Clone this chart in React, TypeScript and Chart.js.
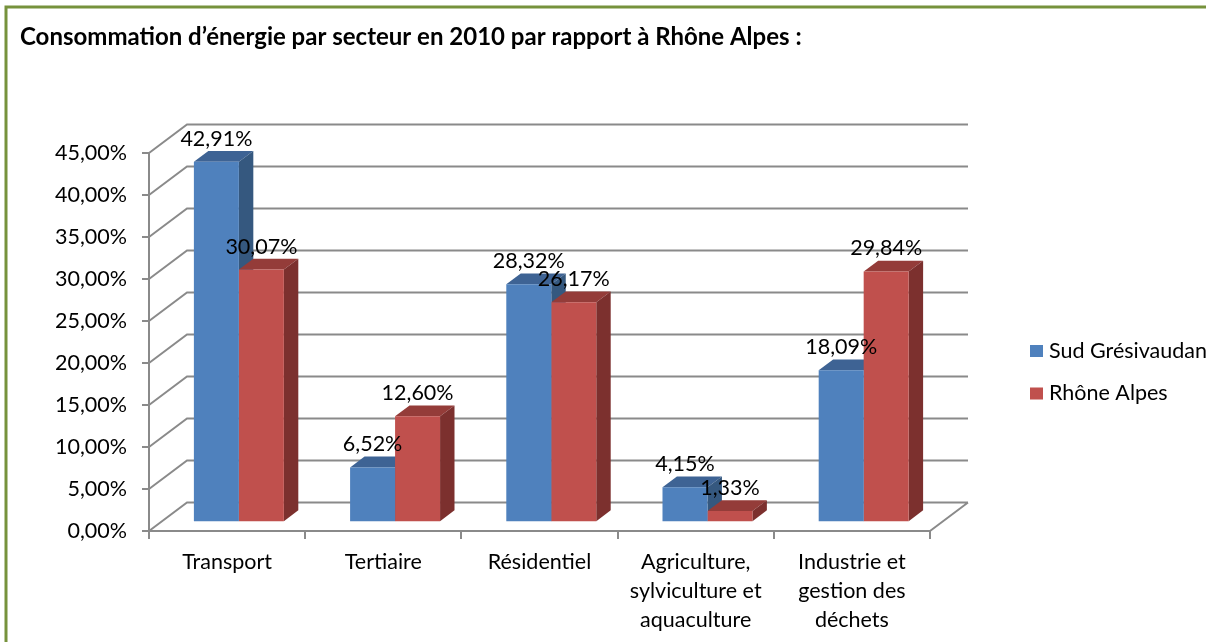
import React, { useEffect, useRef } from 'react';
import { Chart, registerables } from 'chart.js';

Chart.register(...registerables);

// ---- data ----
const categories: string[][] = [
  ['Transport'],
  ['Tertiaire'],
  ['Résidentiel'],
  ['Agriculture,', 'sylviculture et', 'aquaculture'],
  ['Industrie et', 'gestion des', 'déchets'],
];
const sudGresivaudan = [42.91, 6.52, 28.32, 4.15, 18.09];
const rhoneAlpes = [30.07, 12.6, 26.17, 1.33, 29.84];
const seriesNames = ['Sud Grésivaudan', 'Rhône Alpes'];
const yTicksMin = 0;
const yTicksMax = 45;
const yTicksStep = 5;
const chartTitle = 'Consommation d’énergie par secteur en 2010 par rapport à Rhône Alpes :';

// ---- styles ----
const FONT = 'Lato, "Open Sans", sans-serif';
const TICK_SIZE = 21.5;
const TITLE_SIZE = 24;
const GRID = '#8a8a8a';
const FRONT = ['#4F81BD', '#C0504D'];
const TOP = ['#3E6394', '#943C39'];
const SIDE = ['#35587F', '#7C302E'];
const DEPTH_X = 38;
const DEPTH_Y = -28.5;
const BAR_FRONT = 0.31;
const BAR_DEPTH = 0.38;

const pct = (v: number) => v.toFixed(2).replace('.', ',') + '%';

const threeD = {
  id: 'threeD',
  beforeDatasetsDraw(chart: any) {
    const { ctx, chartArea } = chart;
    const y = chart.scales.y;
    ctx.save();
    ctx.strokeStyle = GRID;
    ctx.lineWidth = 2;
    ctx.beginPath();
    y.ticks.forEach((t: any) => {
      const py = y.getPixelForValue(t.value);
      ctx.moveTo(chartArea.left, py);
      ctx.lineTo(chartArea.left + DEPTH_X, py + DEPTH_Y);
      ctx.lineTo(chartArea.right + DEPTH_X, py + DEPTH_Y);
    });
    const y0 = y.getPixelForValue(0);
    ctx.moveTo(chartArea.right, y0);
    ctx.lineTo(chartArea.right + DEPTH_X, y0 + DEPTH_Y);
    ctx.stroke();

    const ox = DEPTH_X * BAR_FRONT;
    const oy = DEPTH_Y * BAR_FRONT;
    const bx = DEPTH_X * BAR_DEPTH;
    const by = DEPTH_Y * BAR_DEPTH;
    const n = chart.data.labels.length;
    for (let i = 0; i < n; i++) {
      chart.data.datasets.forEach((_d: any, di: number) => {
        const el = chart.getDatasetMeta(di).data[i];
        if (!el) return;
        const p = el.getProps(['x', 'y', 'base', 'width'], true);
        const l = p.x - p.width / 2 + ox;
        const r = p.x + p.width / 2 + ox;
        const t = p.y + oy;
        const b = p.base + oy;
        ctx.fillStyle = TOP[di];
        ctx.beginPath();
        ctx.moveTo(l, t);
        ctx.lineTo(r, t);
        ctx.lineTo(r + bx, t + by);
        ctx.lineTo(l + bx, t + by);
        ctx.closePath();
        ctx.fill();
        ctx.fillStyle = SIDE[di];
        ctx.beginPath();
        ctx.moveTo(r, t);
        ctx.lineTo(r + bx, t + by);
        ctx.lineTo(r + bx, b + by);
        ctx.lineTo(r, b);
        ctx.closePath();
        ctx.fill();
      });
    }
    ctx.restore();
    ctx.save();
    ctx.translate(ox, oy);
  },
  afterDatasetsDraw(chart: any) {
    const { ctx } = chart;
    ctx.restore();
    const ox = DEPTH_X * BAR_FRONT;
    const oy = DEPTH_Y * BAR_FRONT;
    ctx.save();
    ctx.font = `${TICK_SIZE}px ${FONT}`;
    ctx.fillStyle = '#000';
    ctx.textAlign = 'center';
    ctx.textBaseline = 'middle';
    chart.data.datasets.forEach((d: any, di: number) => {
      chart.getDatasetMeta(di).data.forEach((el: any, i: number) => {
        const p = el.getProps(['x', 'y'], true);
        ctx.fillText(pct(d.data[i]), p.x + ox, p.y + oy - 23);
      });
    });
    ctx.restore();
  },
  afterDraw(chart: any) {
    const { ctx } = chart;
    ctx.save();
    // frame
    ctx.strokeStyle = '#76923C';
    ctx.lineWidth = 3;
    ctx.beginPath();
    ctx.moveTo(6, 700);
    ctx.lineTo(6, 7);
    ctx.lineTo(1300, 7);
    ctx.stroke();
    // title
    ctx.fillStyle = '#000';
    ctx.font = `bold ${TITLE_SIZE}px ${FONT}`;
    ctx.textAlign = 'left';
    ctx.textBaseline = 'middle';
    ctx.fillText(chartTitle, 20, 37);
    // legend
    ctx.font = `${TICK_SIZE}px ${FONT}`;
    chart.data.datasets.forEach((d: any, di: number) => {
      const cy = 351 + di * 42.5;
      ctx.fillStyle = FRONT[di];
      ctx.fillRect(1030, cy - 6, 13, 12);
      ctx.fillStyle = '#000';
      ctx.fillText(d.label, 1049, cy);
    });
    ctx.restore();
  },
};

export default function App() {
  const ref = useRef<HTMLCanvasElement | null>(null);
  useEffect(() => {
    if (!ref.current) return;
    Chart.defaults.font.family = FONT;
    const chart = new Chart(ref.current, {
      type: 'bar',
      data: {
        labels: categories as any,
        datasets: [
          { label: seriesNames[0], data: sudGresivaudan, backgroundColor: FRONT[0], borderWidth: 0, clip: false as any },
          { label: seriesNames[1], data: rhoneAlpes, backgroundColor: FRONT[1], borderWidth: 0, clip: false as any },
        ],
      },
      options: {
        responsive: false,
        animation: false,
        events: [],
        layout: { padding: { left: 0, top: 153, right: 276, bottom: 0 } },
        datasets: { bar: { categoryPercentage: 0.576, barPercentage: 1 } },
        plugins: { legend: { display: false }, tooltip: { enabled: false }, title: { display: false } },
        scales: {
          x: {
            offset: true,
            grid: { display: true, drawOnChartArea: false, drawTicks: true, tickLength: 8, color: GRID, lineWidth: 2, offset: true },
            border: { display: true, color: GRID, width: 2 },
            ticks: { color: '#000', font: { size: TICK_SIZE, family: FONT, lineHeight: '29px' as any }, padding: 9, maxRotation: 0, autoSkip: false },
            afterFit: (s: any) => { s.height = 111; },
          },
          y: {
            min: yTicksMin,
            max: yTicksMax,
            grid: { display: true, drawOnChartArea: false, drawTicks: true, tickLength: 7, color: GRID, lineWidth: 2 },
            border: { display: true, color: GRID, width: 2 },
            ticks: { stepSize: yTicksStep, color: '#000', font: { size: TICK_SIZE, family: FONT }, padding: 15, callback: (v: any) => pct(Number(v)) },
            afterFit: (s: any) => { s.width = 149; },
          },
        },
      },
      plugins: [threeD],
    });
    return () => chart.destroy();
  }, []);
  return (
    <div style={{ position: 'absolute', left: 0, top: 0, width: 1206, height: 642, background: '#fff' }}>
      <canvas ref={ref} width={1206} height={642} style={{ display: 'block' }} />
    </div>
  );
}
